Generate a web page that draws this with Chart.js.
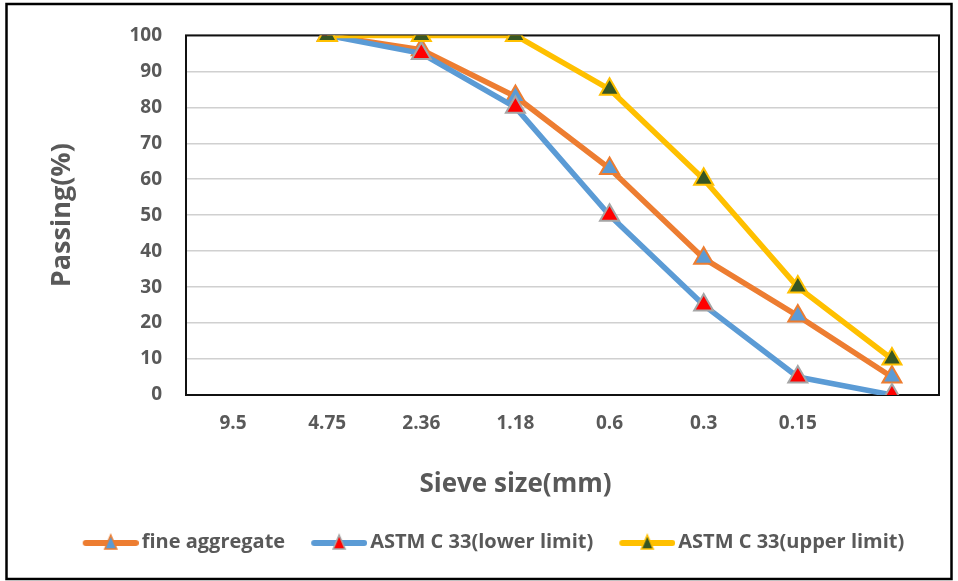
<!DOCTYPE html>
<html>
<head>
<meta charset="utf-8">
<script src="https://cdn.jsdelivr.net/npm/chart.js@4.4.1/dist/chart.umd.min.js"></script>
<style>
  html, body { margin: 0; padding: 0; background: #fff; }
  #wrap { width: 958px; height: 581px; }
</style>
</head>
<body>
<div id="wrap"><canvas id="sieveChart" width="958" height="581"></canvas></div>
<script>
// sieve sizes (last one has no label)
const sieveSizes = ['9.5', '4.75', '2.36', '1.18', '0.6', '0.3', '0.15', ''];
const fineAggregate = [null, 100, 96, 83, 63, 38, 22, 5];
const lowerLimit = [null, 100, 95, 80, 50, 25, 5, 0];
const upperLimit = [null, 100, 100, 100, 85, 60, 30, 10];
const seriesNames = ['fine aggregate', 'ASTM C 33(lower limit)', 'ASTM C 33(upper limit)'];
const xTitle = 'Sieve size(mm)';
const yTitle = 'Passing(%)';

const textColor = '#595959';
const fontFamily = '"Open Sans", "Liberation Sans", sans-serif';

// legend icon: short line with a triangle in the middle
function legendIcon(lineColor, fill, stroke) {
    const leftPad = 16;
    const c = document.createElement('canvas');
    c.width = 56 + leftPad;
    c.height = 18;
    const g = c.getContext('2d');
    g.lineCap = 'round';
    g.strokeStyle = lineColor;
    g.lineWidth = 6;
    g.beginPath();
    g.moveTo(leftPad + 3, 10);
    g.lineTo(leftPad + 53, 10);
    g.stroke();
    const cx = leftPad + 28;
    g.beginPath();
    g.moveTo(cx, 2);
    g.lineTo(cx + 6, 16);
    g.lineTo(cx - 6, 16);
    g.closePath();
    g.fillStyle = fill;
    g.fill();
    g.lineWidth = 1.5;
    g.strokeStyle = stroke;
    g.stroke();
    return c;
}

const styles = [
    { line: '#ED7D31', fill: '#5B9BD5', stroke: '#ED7D31' },
    { line: '#5B9BD5', fill: '#FF0000', stroke: '#A5A5A5' },
    { line: '#FFC000', fill: '#375623', stroke: '#FFC000' }
];
const icons = styles.map(s => legendIcon(s.line, s.fill, s.stroke));

const frames = {
    id: 'frames',
    beforeDatasetsDraw(chart) {
        const { ctx, chartArea: a } = chart;
        ctx.save();
        ctx.strokeStyle = '#111';
        ctx.lineWidth = 2;
        ctx.strokeRect(a.left, a.top, a.right - a.left, a.bottom - a.top);
        ctx.restore();
    },
    afterDraw(chart) {
        const { ctx, chartArea: a } = chart;
        ctx.save();
        // x axis title sits a little left of the plot centre
        ctx.fillStyle = textColor;
        ctx.font = 'bold 26px ' + fontFamily;
        ctx.textAlign = 'center';
        ctx.textBaseline = 'middle';
        ctx.fillText(xTitle, (a.left + a.right) / 2 - 47, a.bottom + 90);
        // outer frame
        ctx.strokeStyle = '#000';
        ctx.lineWidth = 2.5;
        ctx.strokeRect(6.5, 4, chart.width - 13, chart.height - 6);
        ctx.restore();
    }
};

function makeDataset(i, data, order) {
    return {
        label: seriesNames[i],
        data: data,
        borderColor: styles[i].line,
        backgroundColor: styles[i].line,
        borderWidth: 5.5,
        pointStyle: 'triangle',
        pointRadius: 11,
        pointHoverRadius: 11,
        pointBackgroundColor: styles[i].fill,
        pointBorderColor: styles[i].stroke,
        pointBorderWidth: 2,
        borderJoinStyle: 'round',
        tension: 0,
        order: order
    };
}

let ctx = document.getElementById('sieveChart').getContext('2d');
let sieveChart = new Chart(ctx, {
    type: 'line',
    data: {
        labels: sieveSizes,
        datasets: [
            makeDataset(0, fineAggregate, 3),
            makeDataset(1, lowerLimit, 2),
            makeDataset(2, upperLimit, 1)
        ]
    },
    options: {
        responsive: false,
        animation: false,
        devicePixelRatio: 1,
        layout: {
            padding: { top: 33, right: 19, left: 39, bottom: 19 }
        },
        scales: {
            x: {
                offset: true,
                grid: { display: false, drawTicks: false },
                border: { display: false },
                ticks: {
                    autoSkip: false,
                    maxRotation: 0,
                    padding: 17,
                    color: textColor,
                    font: { family: fontFamily, size: 19, weight: 'bold' }
                },
                afterFit: function(scale) { scale.height = 120; }
            },
            y: {
                min: 0,
                max: 100,
                grid: { color: '#d0d0d0', lineWidth: 1.5, drawTicks: false },
                border: { display: false },
                ticks: {
                    stepSize: 10,
                    padding: 24,
                    color: textColor,
                    font: { family: fontFamily, size: 19, weight: 'bold' }
                },
                title: {
                    display: true,
                    text: yTitle,
                    color: textColor,
                    padding: { top: 7, bottom: 0 },
                    font: { family: fontFamily, size: 27, weight: 'bold' }
                },
                afterFit: function(scale) { scale.width = 147; }
            }
        },
        plugins: {
            legend: {
                position: 'bottom',
                labels: {
                    usePointStyle: true,
                    pointStyleWidth: 58,
                    padding: 17,
                    color: textColor,
                    font: { family: fontFamily, size: 20, weight: 'bold' },
                    generateLabels: function(chart) {
                        return chart.data.datasets.map((ds, i) => ({
                            text: ds.label,
                            pointStyle: icons[i],
                            fillStyle: 'transparent',
                            strokeStyle: 'transparent',
                            lineWidth: 0,
                            fontColor: textColor,
                            datasetIndex: i,
                            hidden: false
                        }));
                    }
                }
            },
            tooltip: { enabled: false }
        }
    },
    plugins: [frames]
});
</script>
</body>
</html>
